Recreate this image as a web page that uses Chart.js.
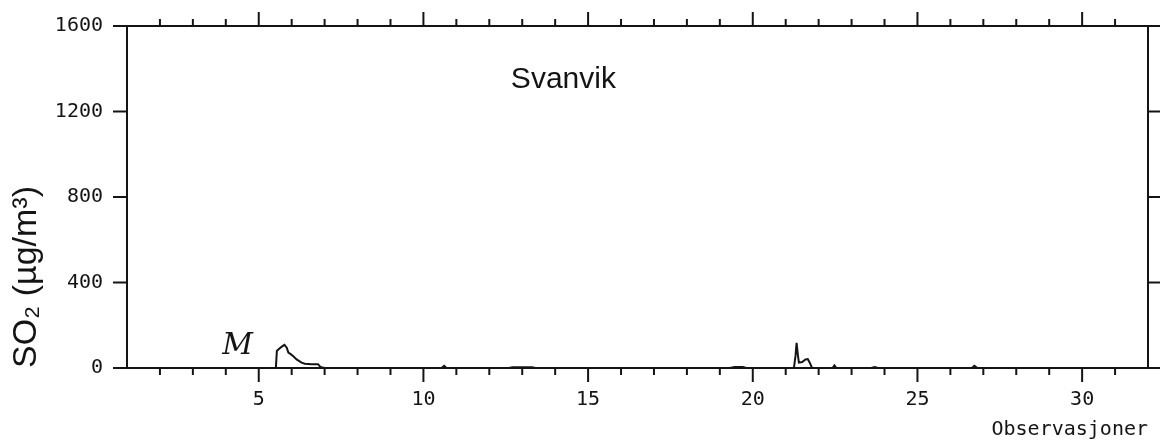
<!DOCTYPE html>
<html>
<head>
<meta charset="utf-8">
<script src="https://cdn.jsdelivr.net/npm/chart.js@4.4.1/dist/chart.umd.min.js"></script>
<style>
  body { margin: 0; background: #fff; }
  #wrap { width: 1160px; height: 446px; }
</style>
</head>
<body>
<div id="wrap"><canvas id="so2Chart" width="1160" height="446"></canvas></div>
<script>
// SO2 hourly values at Svanvik, x = day of month
const days = [1, 5.52, 5.55, 5.62, 5.7, 5.78, 5.85, 5.9, 5.97, 6.05, 6.15, 6.3, 6.4, 6.6, 6.8, 6.87, 7.0,
  10.55, 10.63, 10.7, 12.6, 12.7, 13.3, 13.4, 19.3, 19.45, 19.7, 19.8,
  21.25, 21.3, 21.33, 21.37, 21.4, 21.5, 21.6, 21.67, 21.73, 21.8,
  22.42, 22.48, 22.54, 23.6, 23.7, 23.8, 26.65, 26.73, 26.82, 32];
const so2 = [0, 0, 80, 90, 100, 108, 95, 72, 65, 55, 40, 25, 20, 18, 18, 5, 0,
  0, 10, 0, 0, 4, 4, 0, 0, 5, 5, 0,
  0, 60, 118, 60, 25, 28, 40, 42, 25, 0,
  0, 12, 0, 0, 4, 0, 0, 10, 0, 0];

const yTicks = [0, 400, 800, 1200, 1600];
const xTickLabels = [5, 10, 15, 20, 25, 30];
const dayTicks = [2, 3, 4, 5, 6, 7, 8, 9, 10, 11, 12, 13, 14, 15, 16, 17, 18, 19, 20, 21, 22, 23, 24, 25, 26, 27, 28, 29, 30, 31];

// text notes placed in data coordinates
const stationName = 'Svanvik';
const stationPos = [14.25, 1350];
const handNote = 'M';
const handNotePos = [4.36, 100];

const ink = '#141414';
const monoFont = { family: '"DejaVu Sans Mono", monospace', size: 20 };

// FRAME AND TICK MARKS
const framePlugin = {
  id: 'frame',
  afterDraw(chart) {
    const { ctx, chartArea: a, scales: { x, y } } = chart;
    const line = (x1, y1, x2, y2) => {
      ctx.beginPath();
      ctx.moveTo(x1, y1);
      ctx.lineTo(x2, y2);
      ctx.stroke();
    };
    ctx.save();
    ctx.strokeStyle = ink;
    ctx.lineWidth = 2;
    ctx.strokeRect(a.left, a.top, a.right - a.left, a.bottom - a.top);

    dayTicks.forEach(d => {
      const px = x.getPixelForValue(d);
      const len = d % 5 === 0 ? 14 : 7;
      line(px, a.bottom, px, a.bottom + len);
      line(px, a.top, px, a.top - len);
    });
    yTicks.forEach(v => {
      const py = y.getPixelForValue(v);
      line(a.left - 14, py, a.left, py);
      line(a.right, py, a.right + 12, py);
    });

    ctx.fillStyle = ink;
    ctx.textAlign = 'center';
    ctx.textBaseline = 'middle';
    ctx.font = '30px "Liberation Sans", Arial, sans-serif';
    ctx.fillText(stationName, x.getPixelForValue(stationPos[0]), y.getPixelForValue(stationPos[1]));
    ctx.font = 'italic 30px "DejaVu Serif", serif';
    ctx.fillText(handNote, x.getPixelForValue(handNotePos[0]), y.getPixelForValue(handNotePos[1]));
    ctx.restore();
  }
};

const points = days.map((d, i) => ({ x: d, y: so2[i] }));

new Chart(document.getElementById('so2Chart'), {
  type: 'line',
  data: {
    datasets: [{
      data: points,
      borderColor: ink,
      borderWidth: 2,
      pointRadius: 0,
      tension: 0,
      fill: false
    }]
  },
  options: {
    responsive: false,
    animation: false,
    layout: { padding: { top: 26, right: 12, left: 0, bottom: 0 } },
    plugins: {
      legend: { display: false },
      tooltip: { enabled: false }
    },
    scales: {
      x: {
        type: 'linear',
        min: 1,
        max: 32,
        grid: { display: false, drawTicks: false },
        border: { display: false },
        ticks: {
          stepSize: 1,
          autoSkip: false,
          maxRotation: 0,
          padding: 20,
          color: ink,
          font: monoFont,
          callback: v => xTickLabels.includes(v) ? String(v) : ''
        },
        title: {
          display: true,
          text: 'Observasjoner',
          align: 'end',
          color: ink,
          font: monoFont,
          padding: { top: 0, bottom: 4 }
        },
        afterFit: s => {
          s.height = 78;
          s.paddingLeft = 0;
          s.paddingRight = 0;
        }
      },
      y: {
        min: 0,
        max: 1600,
        grid: { display: false, drawTicks: false },
        border: { display: false },
        ticks: {
          stepSize: 400,
          padding: 24,
          color: ink,
          font: monoFont,
          callback: v => String(v)
        },
        title: {
          display: true,
          text: 'SO₂ (µg/m³)',
          align: 'start',
          color: ink,
          font: { family: '"Liberation Sans", Arial, sans-serif', size: 34 },
          padding: { top: 6, bottom: 0 }
        },
        afterFit: s => {
          s.width = 127;
          s.paddingTop = 0;
          s.paddingBottom = 0;
        }
      }
    }
  },
  plugins: [framePlugin]
});
</script>
</body>
</html>
